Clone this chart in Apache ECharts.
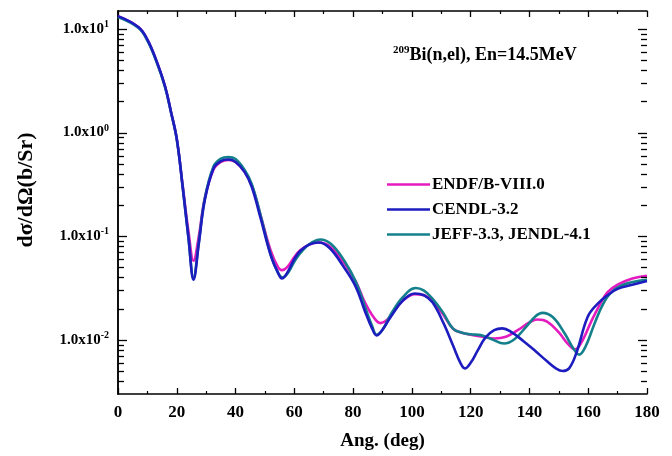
<!DOCTYPE html>
<html>
<head>
<meta charset="utf-8">
<script src="https://cdn.jsdelivr.net/npm/echarts@6/dist/echarts.min.js"></script>
<style>
  html, body { margin: 0; padding: 0; background: #fff; }
  #chart { width: 672px; height: 456px; }
</style>
</head>
<body>
<div id="chart"></div>
<script>
// Elastic angular distribution for 209Bi at 14.5 MeV, three evaluations.
const endfAngles = [0, 7, 10, 13, 16, 18, 20, 22, 24, 25.7, 27.5, 29.5, 32.5, 35, 37.6, 40, 43, 45.5, 48.5, 52, 54.5, 55.8, 57.5, 60, 62, 65, 68.3, 72, 76.5, 80.8, 84, 87, 89.3, 91.5, 94, 97, 101, 104, 107, 110.5, 114, 117, 120, 124, 128, 132, 136, 140, 142.7, 146, 150, 153, 155.5, 158, 161, 164, 166.6, 170, 175, 180];
const endfValues = [13.3, 10.4, 7.9, 5.0, 2.8, 1.6, 0.87, 0.31, 0.11, 0.058, 0.10, 0.23, 0.44, 0.52, 0.545, 0.52, 0.42, 0.31, 0.16, 0.072, 0.050, 0.047, 0.050, 0.063, 0.073, 0.083, 0.087, 0.080, 0.057, 0.037, 0.023, 0.0165, 0.0145, 0.0155, 0.019, 0.024, 0.0275, 0.027, 0.0235, 0.0178, 0.0128, 0.0117, 0.0112, 0.0107, 0.0103, 0.0107, 0.0124, 0.0147, 0.0157, 0.0150, 0.0118, 0.0092, 0.0081, 0.0098, 0.015, 0.022, 0.0288, 0.034, 0.039, 0.0416];

const cendlAngles = [0, 7, 10, 13, 16, 18, 20, 22, 24, 25.7, 27.5, 29.5, 32.5, 35, 37.6, 40, 43, 45.5, 48.5, 52, 54.5, 55.8, 57.5, 60, 62, 65, 68.3, 72, 76.5, 80.8, 84, 86.5, 88, 90, 93, 97, 101, 104, 107, 110.8, 114, 116.5, 118, 120, 122.5, 125, 128, 130.8, 134, 138, 142, 146, 149, 151.3, 153.5, 156, 159.8, 163, 166.6, 170, 175, 180];
const cendlValues = [13.3, 10.4, 7.9, 5.0, 2.8, 1.6, 0.87, 0.30, 0.095, 0.038, 0.085, 0.22, 0.45, 0.53, 0.55, 0.52, 0.42, 0.30, 0.15, 0.065, 0.044, 0.039, 0.044, 0.060, 0.072, 0.083, 0.087, 0.077, 0.052, 0.033, 0.019, 0.0128, 0.011, 0.0125, 0.017, 0.024, 0.028, 0.027, 0.023, 0.0144, 0.0088, 0.0060, 0.0053, 0.0060, 0.0080, 0.0105, 0.0124, 0.0129, 0.0118, 0.0097, 0.0078, 0.0062, 0.0053, 0.0050, 0.0053, 0.0075, 0.0166, 0.022, 0.027, 0.031, 0.034, 0.037];

const jeffAngles = [0, 7, 10, 13, 16, 18, 20, 22, 24, 25.7, 27.5, 29.5, 32.5, 35, 37.6, 40, 43, 45.5, 48.5, 52, 54.5, 56, 58, 60.5, 63, 66, 68.8, 72.5, 77, 81, 84, 86.5, 88, 90, 93, 97, 101.3, 104, 107, 110.5, 114, 117, 120, 123.4, 127, 131.4, 135, 139, 142, 144.4, 148, 152, 155, 156.9, 159, 162, 165, 168, 172, 176, 180];
const jeffValues = [13.0, 10.2, 7.7, 4.9, 2.75, 1.58, 0.86, 0.30, 0.095, 0.040, 0.088, 0.23, 0.47, 0.56, 0.58, 0.555, 0.44, 0.32, 0.16, 0.066, 0.044, 0.040, 0.045, 0.060, 0.074, 0.087, 0.093, 0.084, 0.058, 0.036, 0.021, 0.0135, 0.0112, 0.0125, 0.018, 0.026, 0.0316, 0.030, 0.025, 0.0185, 0.0128, 0.0117, 0.0113, 0.0111, 0.0102, 0.0092, 0.0102, 0.0135, 0.0168, 0.0182, 0.0165, 0.0115, 0.0082, 0.0072, 0.0085, 0.014, 0.022, 0.029, 0.034, 0.0365, 0.038];

const seriesNames = ['ENDF/B-VIII.0', 'CENDL-3.2', 'JEFF-3.3, JENDL-4.1'];
const seriesColors = ['#e41cc0', '#1c1cbf', '#14808b'];

const xTicks = [0, 20, 40, 60, 80, 100, 120, 140, 160, 180];
const yDecades = [-2, -1, 0, 1];
const yMin = 0.003, yMax = 14.9;

const FONT = '"Liberation Serif", "Times New Roman", serif';
const pair = (a, v) => a.map((x, i) => [x, v[i]]);

// Log tick positions: decades get long ticks, 2..9 multiples short ones.
const yTickMarks = [];
for (let d = -3; d <= 1; d++) {
  for (let k = 1; k <= 9; k++) {
    const v = k * Math.pow(10, d);
    if (v <= yMin || v >= yMax) continue;
    yTickMarks.push([v, (k === 1 && yDecades.indexOf(d) >= 0) ? 9 : 6]);
  }
}

const chart = echarts.init(document.getElementById('chart'), null, { renderer: 'canvas' });

function yLabel(v) {
  const e = Math.log10(v);
  const r = Math.round(e);
  if (Math.abs(e - r) > 1e-6) return '';
  return '{b|1.0x10}{s|' + r + '}';
}

const grid = { left: 118, right: 25, top: 11, bottom: 58 };
const axisLine = { show: true, lineStyle: { color: '#000', width: 1.5 } };

function lineSeries(name, data, color, z) {
  return {
    name, type: 'line', data, smooth: 0.4,
    symbol: 'none', z,
    lineStyle: { color, width: 2.6 }, itemStyle: { color }
  };
}

// Draws inward ticks on both vertical frame edges at a given y value.
function renderYTick(params, api) {
  const v = yTickMarks[params.dataIndex][0];
  const len = yTickMarks[params.dataIndex][1];
  const pl = api.coord([xTicks[0], v]);
  const pr = api.coord([xTicks[xTicks.length - 1], v]);
  const y = Math.round(pl[1]) + 0.5;
  const style = { stroke: '#000', lineWidth: 1.3 };
  return {
    type: 'group',
    children: [
      { type: 'line', shape: { x1: pl[0], y1: y, x2: pl[0] + len, y2: y }, style },
      { type: 'line', shape: { x1: pr[0], y1: y, x2: pr[0] - len, y2: y }, style }
    ]
  };
}

chart.setOption({
  animation: false,
  backgroundColor: '#fff',
  grid,
  title: {
    text: '{s|209}{b|Bi(n,el), En=14.5MeV}',
    left: 388, top: 40,
    textStyle: {
      rich: {
        s: { fontFamily: FONT, fontWeight: 'bold', fontSize: 11, color: '#000', padding: [0, 0, 9, 0] },
        b: { fontFamily: FONT, fontWeight: 'bold', fontSize: 18, color: '#000' }
      }
    }
  },
  legend: {
    data: seriesNames,
    orient: 'vertical', left: 382, top: 171,
    icon: 'rect', itemWidth: 43, itemHeight: 2.6, itemGap: 8,
    textStyle: { fontFamily: FONT, fontWeight: 'bold', fontSize: 17, color: '#000', padding: [0, 0, 0, -3] }
  },
  xAxis: [{
    type: 'value', min: xTicks[0], max: xTicks[xTicks.length - 1], interval: 20,
    name: 'Ang. (deg)', nameLocation: 'middle', nameGap: 38,
    nameTextStyle: { fontFamily: FONT, fontWeight: 'bold', fontSize: 19, color: '#000' },
    axisLine, axisTick: { show: true, inside: true, length: 6, lineStyle: { color: '#000', width: 1.3 } },
    minorTick: { show: true, splitNumber: 2, length: 3, lineStyle: { color: '#000', width: 1.2 } },
    axisLabel: { fontFamily: FONT, fontWeight: 'bold', fontSize: 17, color: '#000', margin: 10 },
    splitLine: { show: false }
  }, {
    type: 'value', position: 'top', min: 0, max: 180, interval: 20,
    axisLine, axisTick: { show: true, inside: true, length: 6, lineStyle: { color: '#000', width: 1.3 } },
    minorTick: { show: true, splitNumber: 2, length: 3, lineStyle: { color: '#000', width: 1.2 } },
    axisLabel: { show: false }, splitLine: { show: false }
  }],
  yAxis: [{
    type: 'log', logBase: 10, min: yMin, max: yMax,
    axisLine, axisTick: { show: false },
    axisLabel: {
      formatter: yLabel, margin: 9,
      rich: {
        b: { fontFamily: FONT, fontWeight: 'bold', fontSize: 15, color: '#000' },
        s: { fontFamily: FONT, fontWeight: 'bold', fontSize: 10, color: '#000', padding: [0, 0, 9, 0] }
      }
    },
    splitLine: { show: false }
  }, {
    type: 'log', logBase: 10, min: yMin, max: yMax, position: 'right',
    axisLine, axisTick: { show: false },
    axisLabel: { show: false }, splitLine: { show: false }
  }],
  graphic: [{
    type: 'text', silent: true, x: 26, y: 190, rotation: Math.PI / 2,
    style: {
      text: 'dσ/dΩ(b/Sr)', fill: '#000',
      font: 'bold 22px ' + FONT, align: 'center', verticalAlign: 'middle'
    }
  }],
  series: [
    lineSeries(seriesNames[0], pair(endfAngles, endfValues), seriesColors[0], 2),
    lineSeries(seriesNames[2], pair(jeffAngles, jeffValues), seriesColors[2], 3),
    lineSeries(seriesNames[1], pair(cendlAngles, cendlValues), seriesColors[1], 4),
    {
      type: 'custom', name: 'yTicks', silent: true, clip: false, z: 10,
      renderItem: renderYTick,
      data: yTickMarks.map((t, i) => [xTicks[0], t[0]])
    }
  ]
});
</script>
</body>
</html>
